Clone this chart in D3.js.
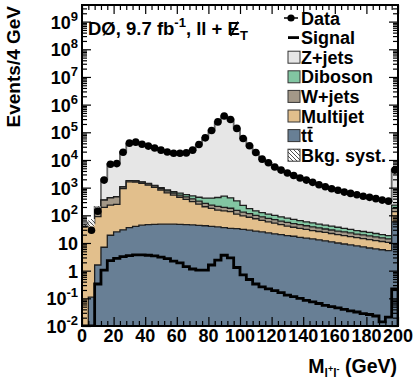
<!DOCTYPE html>
<html><head><meta charset="utf-8">
<script src="https://cdn.jsdelivr.net/npm/d3@7"></script>
<style>
body{margin:0;background:#fff}
svg{display:block}
text{font-family:"Liberation Sans",Arial,Helvetica,sans-serif;font-weight:bold;fill:#000}
</style>
</head><body>
<svg id="c" width="414" height="381"></svg>
<script>
// ---------------- data ----------------
const binLow = [0,4,8,12,16,20,24,28,32,36,40,44,48,52,56,60,64,68,72,76,80,84,88,92,96,100,104,108,112,116,120,124,128,132,136,140,144,148,152,156,160,164,168,172,176,180,184,188,192,196];
const binWidth = 4;
const dataCounts = [0,29,140,1870,7000,7400,19000,40500,44000,37000,31700,27000,22600,19500,17500,17400,18000,22600,36000,63000,116000,237000,390000,290000,138000,60000,32600,18600,10700,7900,5600,4300,3400,2750,2240,1870,1550,1270,1070,910,800,690,620,555,490,445,400,355,325,4300];
const ttbar = [0,0.11,1.6,7,19,25,30,36,40,44,46,47,48,48,48,47,46,45,43,42,40,38,36,34,33,31,29,27,25,23,21.5,20,18.5,17.5,16,15,14,13,12,11,10,9.2,8.5,7.8,7.2,6.6,6.1,5.7,5.3,58];
const multijet = [38,50,88,188,216,225,900,1584,1560,1376,1184,983,772,602,492,403,329,265,210,162,138,117,109,101,77,64,56,48,41,35,30.5,26,22.5,19.5,18,16,14,13,12,11,10,9.3,8.5,7.7,7.1,6.6,6.1,5.6,5.2,77];
const wjets = [4,4,65,160,190,210,140,160,160,150,140,130,120,110,100,90,85,80,72,66,57,55,50,45,40,35,30,25,22,20,18,16,15,13,12,11,10,9,8,7.5,7,6.5,6,5.5,5.2,4.8,4.3,4,3.5,43];
const diboson = [0.2,0.3,2,5,7,8,15,20,25,30,40,50,60,70,80,90,100,110,125,150,185,230,295,250,180,100,60,45,37,32,29,26,23,21,18,16,15,13,12,11.5,10,9,8,7,6.5,6,5.5,4.7,4.5,57];
const zjets = [3,2,43,1640,6770,6930,18400,38200,42200,35400,30100,25800,21500,18700,16800,16700,17400,22000,35500,62600,115600,236500,384500,289600,137700,59800,32400,18450,10575,7790,5500,4210,3320,2680,2176,1812,1497,1222,1026,869,763,656,589,527,464,421,378,335,306,4265];
const signal = [0,0,0.33,1.05,2.3,2.8,3.2,3.5,3.7,3.7,3.6,3.4,3.1,2.7,2.2,1.9,1.4,1.15,1.05,1.05,1.6,2.4,3.6,2.9,1.3,0.7,0.48,0.33,0.26,0.22,0.19,0.16,0.13,0.115,0.1,0.085,0.075,0.065,0.056,0.05,0.045,0.04,0.035,0.032,0.028,0.026,0.023,0.014,0.021,0.22];
const bkgSystFrac = [0.05,0.3,0.05,0.04,0.04,0.04,0.04,0.04,0.04,0.04,0.04,0.04,0.04,0.04,0.04,0.04,0.04,0.04,0.04,0.04,0.04,0.04,0.04,0.04,0.04,0.04,0.04,0.04,0.04,0.04,0.04,0.04,0.04,0.04,0.04,0.04,0.04,0.04,0.04,0.04,0.04,0.04,0.04,0.04,0.04,0.04,0.04,0.04,0.04,0.05];
const xTicks = [0,20,40,60,80,100,120,140,160,180,200];
const yTickExps = [-2,-1,0,1,2,3,4,5,6,7,8,9];
const layerKeys = ["ttbar","multijet","wjets","diboson","zjets"];
const layerColors = {ttbar:"#687f95",multijet:"#e2bf8c",wjets:"#a39888",diboson:"#82c6a2",zjets:"#e6e6e6"};
const legendRows = [
  {type:"data",label:"Data"},
  {type:"signal",label:"Signal"},
  {type:"box",key:"zjets",label:"Z+jets"},
  {type:"box",key:"diboson",label:"Diboson"},
  {type:"box",key:"wjets",label:"W+jets"},
  {type:"box",key:"multijet",label:"Multijet"},
  {type:"box",key:"ttbar",label:"tt"},
  {type:"hatch",label:"Bkg. syst."}
];

// ---------------- layout ----------------
const L=82, T=5, R=398, B=326;
const svg=d3.select("#c");
const x=d3.scaleLinear().domain([0,200]).range([L,R]);
const y=d3.scaleLog().domain([1e-2, Math.pow(10,9.6)]).range([B,T]).clamp(true);

const defs=svg.append("defs");
defs.append("clipPath").attr("id","clip").append("rect").attr("x",L).attr("y",T).attr("width",R-L).attr("height",B-T);
const pat=defs.append("pattern").attr("id","hatch").attr("patternUnits","userSpaceOnUse").attr("width",4).attr("height",4);
pat.append("rect").attr("width",4).attr("height",4).attr("fill","#fff");
pat.append("path").attr("d","M-1,-1 L5,5 M-1,3 L1,5 M3,-1 L5,1").attr("stroke","#222").attr("stroke-width",0.8);

const rows=binLow.map((b,i)=>({bin:b,ttbar:ttbar[i],multijet:multijet[i],wjets:wjets[i],diboson:diboson[i],zjets:zjets[i]}));
const stacked=d3.stack().keys(layerKeys)(rows);

function steps(vals){
  const pts=[];
  vals.forEach((v,i)=>{pts.push([binLow[i],v]);pts.push([binLow[i]+binWidth,v]);});
  return pts;
}
const area=d3.area().x(d=>x(d[0])).y0(B).y1(d=>y(d[1]));
const line=d3.line().x(d=>x(d[0])).y(d=>y(d[1]));

const plot=svg.append("g").attr("clip-path","url(#clip)");
for(let k=stacked.length-1;k>=0;k--){
  const cum=stacked[k].map(d=>d[1]);
  const pts=steps(cum);
  plot.append("path").attr("d",area(pts)).attr("fill",layerColors[layerKeys[k]]);
  const outline=[[binLow[0],0]].concat(pts,[[binLow[binLow.length-1]+binWidth,0]]);
  plot.append("path").attr("d",line(outline)).attr("fill","none")
    .attr("stroke",k===stacked.length-1?"#6a6a6a":"#1e1e1e").attr("stroke-width",k===stacked.length-1?1.8:1.3);
}
// syst band
const total=stacked[stacked.length-1].map(d=>d[1]);
const bandPts=[];
total.forEach((t,i)=>{
  bandPts.push({x0:binLow[i],lo:t*(1-bkgSystFrac[i]),hi:t*(1+bkgSystFrac[i])});
  bandPts.push({x0:binLow[i]+binWidth,lo:t*(1-bkgSystFrac[i]),hi:t*(1+bkgSystFrac[i])});
});
plot.append("path").attr("d",d3.area().x(d=>x(d.x0)).y0(d=>y(d.lo)).y1(d=>y(d.hi))(bandPts))
  .attr("fill","url(#hatch)").attr("opacity",0.9);
// signal
const sigPts=[[binLow[0],0]].concat(steps(signal),[[binLow[binLow.length-1]+binWidth,0]]);
plot.append("path").attr("d",line(sigPts)).attr("fill","none").attr("stroke","#000").attr("stroke-width",2.8).attr("stroke-linejoin","miter");
// data
plot.selectAll("circle.d").data(dataCounts.map((v,i)=>({v,c:binLow[i]+binWidth/2})).filter(d=>d.v>0))
  .enter().append("circle").attr("cx",d=>x(d.c)).attr("cy",d=>y(d.v)).attr("r",3.8).attr("fill","#000");

// ---------------- axes / ticks ----------------
const majY=yTickExps.map(e=>Math.pow(10,e));
const minY=[];
yTickExps.forEach(e=>{for(let k=2;k<=9;k++){const v=k*Math.pow(10,e);if(v<=y.domain()[1])minY.push(v);}});
const minX=[];
for(let v=0;v<=200;v+=4){if(v%20!==0)minX.push(v);}
function ax(gen,vals,size,tx,ty){
  const g=svg.append("g").attr("transform",`translate(${tx},${ty})`).call(gen.tickValues(vals).tickSize(size).tickFormat(""));
  g.select(".domain").remove();
  g.selectAll("line").attr("stroke","#000").attr("stroke-width",1.2);
}
ax(d3.axisLeft(y),majY,-9,L,0); ax(d3.axisLeft(y),minY,-5,L,0);
ax(d3.axisRight(y),majY,-9,R,0); ax(d3.axisRight(y),minY,-5,R,0);
ax(d3.axisBottom(x),xTicks,-9,0,B); ax(d3.axisBottom(x),minX,-5,0,B);
ax(d3.axisTop(x),xTicks,-9,0,T); ax(d3.axisTop(x),minX,-5,0,T);
svg.append("rect").attr("x",L).attr("y",T).attr("width",R-L).attr("height",B-T).attr("fill","none").attr("stroke","#000").attr("stroke-width",2);

// y tick labels
yTickExps.forEach(e=>{
  const t=svg.append("text").attr("x",78).attr("y",y(Math.pow(10,e))+7).attr("text-anchor","end").attr("font-size",18);
  if(e===0) t.text("1");
  else if(e===1) t.text("10");
  else { t.append("tspan").text("10"); t.append("tspan").attr("dy",-8).attr("font-size",13).text(String(e)); }
});
// x tick labels
xTicks.forEach(v=>{
  svg.append("text").attr("x",x(v)).attr("y",342).attr("text-anchor","middle").attr("font-size",18).text(v);
});
// axis titles
const xt=svg.append("text").attr("x",397).attr("y",373).attr("text-anchor","end").attr("font-size",19.5);
xt.append("tspan").text("M");
xt.append("tspan").attr("font-size",12).attr("dy",4).text("l");
xt.append("tspan").attr("font-size",9).attr("dy",-5).text("+");
xt.append("tspan").attr("font-size",12).attr("dy",5).text("l");
xt.append("tspan").attr("font-size",9).attr("dy",-5).text("-");
xt.append("tspan").attr("dy",1).text(" (GeV)");
svg.append("text").attr("transform","translate(20,6) rotate(-90)").attr("text-anchor","end").attr("font-size",19).text("Events/4 GeV");

// header
const hd=svg.append("text").attr("x",88).attr("y",35).attr("font-size",18.5);
hd.append("tspan").text("DØ, 9.7 fb");
hd.append("tspan").attr("dy",-8).attr("font-size",13).text("-1");
hd.append("tspan").attr("dy",8).text(", ll + ");
hd.append("tspan").text("E");
hd.append("tspan").attr("dy",5).attr("font-size",13).text("T");
{
  const node=hd.node(); const full=node.textContent; const idx=full.lastIndexOf("E");
  const bb=node.getExtentOfChar(idx);
  svg.append("line").attr("x1",bb.x+bb.width*0.25).attr("y1",bb.y+bb.height*0.85).attr("x2",bb.x+bb.width*0.85).attr("y2",bb.y+bb.height*0.18).attr("stroke","#000").attr("stroke-width",1.8);
}

// legend
const lg=svg.append("g");
legendRows.forEach((r,i)=>{
  const cy=18+19.6*i;
  if(r.type==="data"){
    lg.append("line").attr("x1",284).attr("x2",298).attr("y1",cy).attr("y2",cy).attr("stroke","#000").attr("stroke-width",1.5);
    lg.append("circle").attr("cx",291).attr("cy",cy).attr("r",3.6).attr("fill","#000");
  } else if(r.type==="signal"){
    lg.append("line").attr("x1",288).attr("x2",299).attr("y1",cy).attr("y2",cy).attr("stroke","#000").attr("stroke-width",2.8);
  } else {
    lg.append("rect").attr("x",288).attr("y",cy-6).attr("width",12).attr("height",12)
      .attr("fill",r.type==="hatch"?"url(#hatch)":layerColors[r.key]).attr("stroke","#333").attr("stroke-width",1);
  }
  const t=lg.append("text").attr("x",301).attr("y",cy+6.5).attr("font-size",18).text(r.label);
  if(r.key==="ttbar"){
    const bb=t.node().getExtentOfChar(1);
    lg.append("line").attr("x1",bb.x+0.5).attr("x2",bb.x+bb.width-0.5).attr("y1",cy-8).attr("y2",cy-8).attr("stroke","#000").attr("stroke-width",1.5);
  }
});
</script>
</body></html>
